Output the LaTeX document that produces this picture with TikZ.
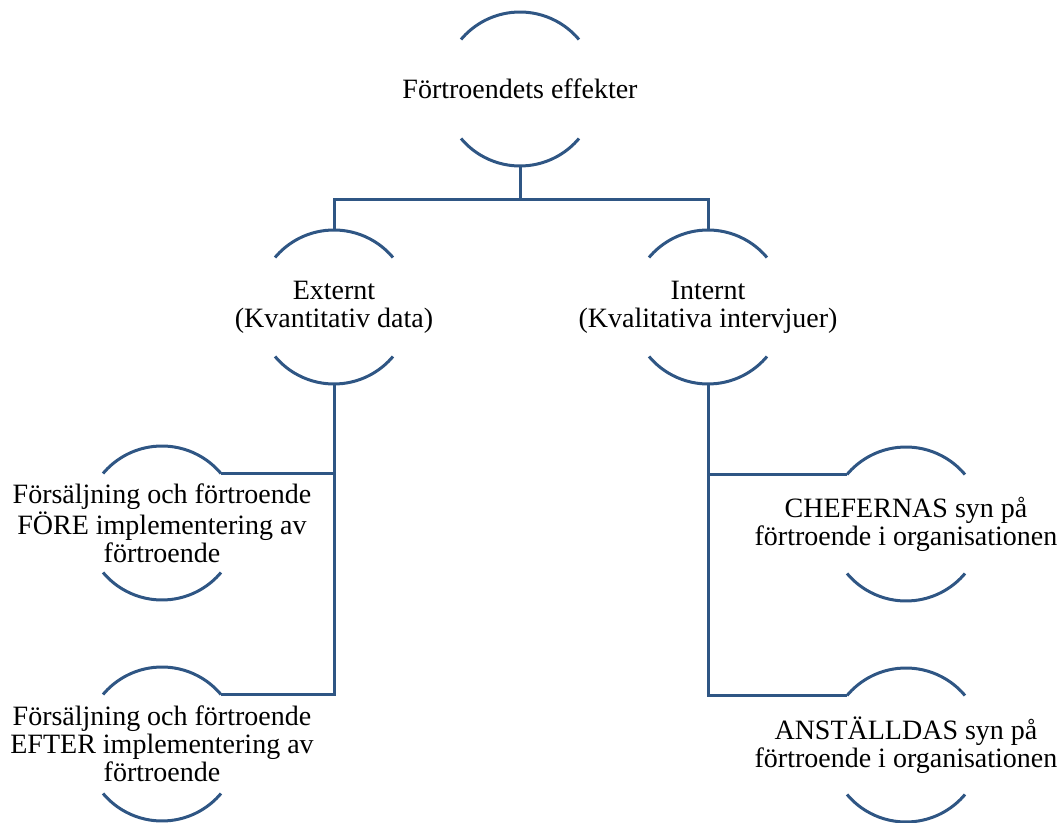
\documentclass[tikz,border=0pt]{standalone}
\usepackage{fontspec}
\setmainfont{Liberation Serif}
\definecolor{linkblue}{RGB}{47,86,132}
\tikzset{
    effect node/.style={circle,minimum size=77pt,inner sep=0,outer sep=0},
    effect text/.style={align=center,font=\fontsize{14}{14}\selectfont},
    rim/.style={draw=linkblue,line width=1.5pt},
    conn/.style={draw=linkblue,line width=1.5pt}
    }

\begin{document}
\begin{tikzpicture}[x=0.5pt,y=0.5pt]
    \useasboundingbox (0,0) rectangle (1061,-823);
    \node(top)[effect node, label={[effect text]center:{Förtroendets effekter}}] at (520,-89) {};
    \node(ext)[effect node, label={[effect text]center:{Externt\\(Kvantitativ data)}}] at (334,-307) {};
    \node(int)[effect node, label={[effect text]center:{Internt\\(Kvalitativa intervjuer)}}] at (708,-307) {};
    \node(fore)[effect node, label={[effect text]center:{Försäljning och förtroende\\FÖRE implementering av\\förtroende}}] at (162,-523) {};
    \node(efter)[effect node, label={[effect text]center:{Försäljning och förtroende\\EFTER implementering av\\förtroende}}] at (162,-744) {};
    \node(chef)[effect node, label={[effect text]center:{CHEFERNAS syn på\\förtroende i organisationen}}] at (906,-524) {};
    \node(anst)[effect node, label={[effect text]center:{ANSTÄLLDAS syn på\\förtroende i organisationen}}] at (906,-745) {};
    \foreach \n in {top,ext,int,fore,efter,chef,anst}{
        \draw[rim] (\n.40) arc (40:140:77);
        \draw[rim] (\n.220) arc (220:320:77);
    }
    \draw[conn] (top.south) -- ++(0,-34) -| (ext.north);
    \draw[conn] (top.south) -- ++(0,-34) -| (int.north);
    \draw[conn] (ext.south) |- (fore.40);
    \draw[conn] (ext.south) |- (efter.40);
    \draw[conn] (int.south) |- (chef.140);
    \draw[conn] (int.south) |- (anst.140);
\end{tikzpicture}
\end{document}
